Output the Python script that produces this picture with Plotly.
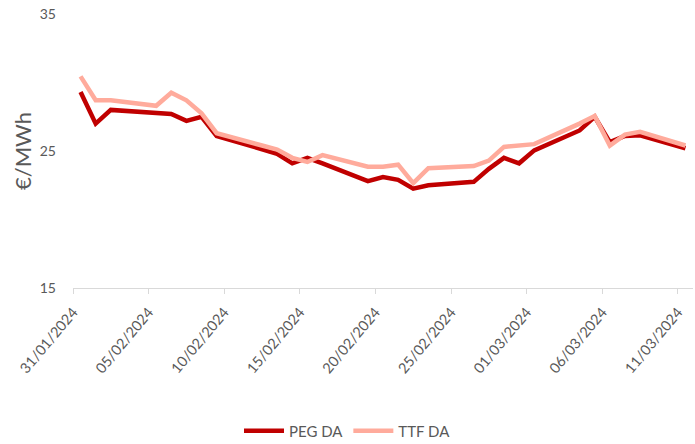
import pandas as pd
import plotly.graph_objects as go

dates = ["31/01/2024", "01/02/2024", "02/02/2024", "05/02/2024", "06/02/2024", "07/02/2024",
         "08/02/2024", "09/02/2024", "12/02/2024", "13/02/2024", "14/02/2024", "15/02/2024",
         "16/02/2024", "19/02/2024", "20/02/2024", "21/02/2024", "22/02/2024", "23/02/2024",
         "26/02/2024", "27/02/2024", "28/02/2024", "29/02/2024", "01/03/2024", "04/03/2024",
         "05/03/2024", "06/03/2024", "07/03/2024", "08/03/2024", "11/03/2024"]

peg_da = [29.3, 27.0, 28.0, 27.8, 27.7, 27.2, 27.5, 26.1, 25.1, 24.8, 24.1, 24.5,
          24.1, 22.8, 23.1, 22.9, 22.25, 22.5, 22.75, 23.7, 24.5, 24.1, 25.05, 26.5,
          27.5, 25.65, 26.1, 26.15, 25.2]

ttf_da = [30.45, 28.7, 28.7, 28.3, 29.25, 28.7, 27.75, 26.3, 25.4, 25.1, 24.5, 24.2,
          24.7, 23.85, 23.85, 24.0, 22.65, 23.75, 23.9, 24.3, 25.3, 25.4, 25.5, 27.0,
          27.55, 25.4, 26.2, 26.4, 25.4]

tick_dates = ["31/01/2024", "05/02/2024", "10/02/2024", "15/02/2024", "20/02/2024",
              "25/02/2024", "01/03/2024", "06/03/2024", "11/03/2024"]
y_ticks = [15, 25, 35]

# Excel "between tick marks" date axis: points sit in the middle of each day
half_day = pd.Timedelta(hours=12)
x = pd.to_datetime(dates, format="%d/%m/%Y") + half_day
tick_edge = pd.to_datetime(tick_dates, format="%d/%m/%Y")

font_family = "Lato, Liberation Sans, Arial"
grey = "#595959"

fig = go.Figure()
fig.add_trace(go.Scatter(x=x, y=peg_da, mode="lines", name="PEG DA",
                         line=dict(color="#C00000", width=4.5)))
fig.add_trace(go.Scatter(x=x, y=ttf_da, mode="lines", name="TTF DA",
                         line=dict(color="#FFAB9C", width=4.5)))

x_start = pd.Timestamp("2024-01-31")
x_end = pd.Timestamp("2024-03-12")

fig.update_layout(
    width=695, height=444,
    margin=dict(l=73, r=2, t=14, b=156),
    paper_bgcolor="white", plot_bgcolor="white",
    font=dict(family=font_family, color=grey, size=14),
    showlegend=True,
    legend=dict(orientation="h", xref="container", x=0.5, xanchor="center",
                yref="container", y=(444 - 431) / 444, yanchor="middle",
                font=dict(size=15, color=grey), itemwidth=40),
    xaxis=dict(
        type="date", range=[x_start, x_end], automargin=False,
        tickvals=tick_edge, ticktext=tick_dates, tickangle=-50,
        ticks="outside", ticklen=5, tickcolor="#D9D9D9",
        showgrid=False, zeroline=False, ticklabelstandoff=4,
        showline=True, linecolor="#D9D9D9", linewidth=1,
        tickfont=dict(size=14.5, color=grey),
    ),
    yaxis=dict(
        range=[15, 35], tickvals=y_ticks, showgrid=False, zeroline=False,
        showline=False, ticks="", ticklabelstandoff=16, automargin=False,
        tickfont=dict(size=14, color=grey),
        title=dict(text="€/MWh", font=dict(size=22, color=grey), standoff=2),
    ),
)

# remove the browser's default 8px body margin so the figure sits at the page corner
fig.write_html("out.html", config={"displayModeBar": False},
               post_script="document.body.style.margin='0';")
